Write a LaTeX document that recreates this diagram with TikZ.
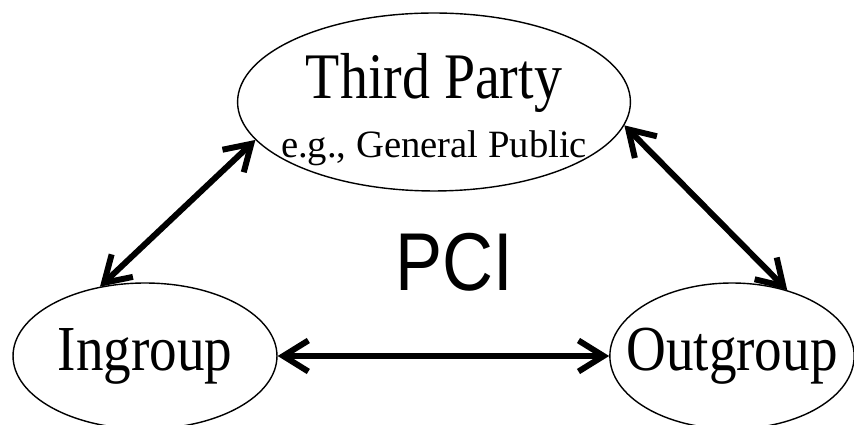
\documentclass[tikz,border=0pt]{standalone}
\usepackage{fontspec}
\setmainfont{Liberation Serif}
\newfontfamily\bigserif[FakeStretch=0.86]{Liberation Serif}
\newfontfamily\pcisans[FakeStretch=0.86]{Liberation Sans}
\usepackage{tikz}
\usetikzlibrary{shapes.geometric}
\usetikzlibrary{arrows.meta}
\tikzstyle{party}=[draw=black,line width=0.8pt,ellipse,inner sep=0pt,align=center]
\tikzstyle{link}=[line width=3.4pt,{Straight Barb[length=0.5cm,width=0.62cm]}-{Straight Barb[length=0.5cm,width=0.62cm]}]

\begin{document}
\begin{tikzpicture}[x=0.02cm,y=0.02cm]
      \useasboundingbox (0,0) rectangle (854,425);

      \node[party,inner xsep=-8pt,inner ysep=-12pt,minimum width=7.76cm,minimum height=3.56cm] (tp) at (434,323)
        {{\bigserif\fontsize{37}{40}\selectfont\rule{0pt}{34.5pt}Third Party}\\[9.5pt]
         {\fontsize{22}{26}\selectfont e.g., General Public}};
      \node[party,minimum width=5.28cm,minimum height=2.92cm] (in) at (145,69)
        {\bigserif\fontsize{36.5}{40}\selectfont Ingroup};
      \node[party,inner xsep=-11pt,minimum width=4.8cm,minimum height=2.92cm] (og) at (732,69)
        {\bigserif\fontsize{36.5}{40}\selectfont Outgroup};

      \node (pci) at (454,163) {\pcisans\fontsize{46.7}{50}\selectfont PCI};

      \draw[link] (in.123) -- (tp.192);
      \draw[link] (tp.353) -- (og.50);
      \draw[link] (in.east) -- (og.west);
\end{tikzpicture}
\end{document}
